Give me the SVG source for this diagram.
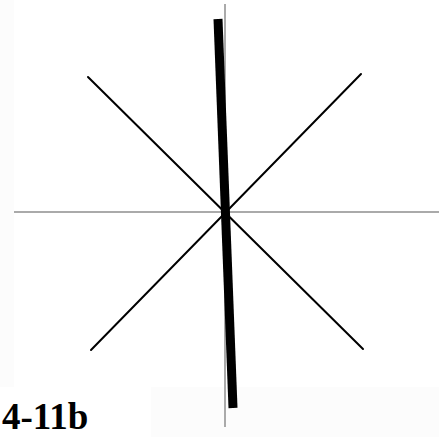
<svg xmlns="http://www.w3.org/2000/svg" width="439" height="437" viewBox="0 0 439 437">
<style>
.axis{stroke:#aaaaaa;stroke-width:2;fill:none}
.diag{stroke:#000;stroke-width:2;stroke-linecap:round;fill:none}
.thick{stroke:#000;stroke-width:9;stroke-linecap:butt;fill:none}
.lbl{font-family:"Liberation Serif","Times New Roman",serif;font-weight:bold;font-size:37px;fill:#000}
</style>
<rect x="0" y="0" width="439" height="437" fill="#fcfcfc"/>
<rect x="14" y="0" width="425" height="387" fill="#ffffff"/>
<rect x="0" y="387" width="151" height="50" fill="#ffffff"/>
<g id="axes">
<line class="axis" x1="14" y1="212" x2="439" y2="212"/>
<line class="axis" x1="225" y1="4" x2="225" y2="427"/>
</g>
<g id="diagonals">
<line class="diag" x1="88" y1="77" x2="363" y2="349"/>
<line class="diag" x1="361" y1="74" x2="91" y2="350"/>
</g>
<g id="thick-line">
<line class="thick" x1="218" y1="19" x2="233" y2="408"/>
</g>
<g id="label">
<text class="lbl" x="2" y="429">4-11b</text>
</g>
</svg>
